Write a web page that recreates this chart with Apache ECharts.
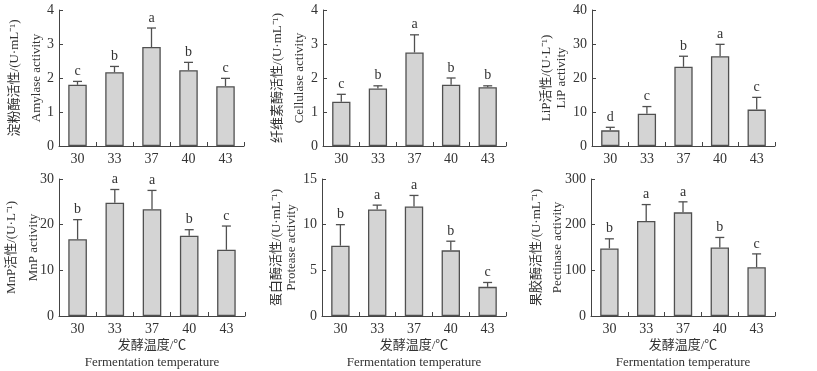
<!DOCTYPE html>
<html>
<head>
<meta charset="utf-8">
<script src="https://cdn.jsdelivr.net/npm/echarts@6/dist/echarts.min.js"></script>
<style>
  html, body { margin: 0; padding: 0; background: #fff; }
  #main { width: 817px; height: 371px; }
</style>
</head>
<body>
<div id="main"></div>
<script>
// fermentation temperatures (x categories)
const temps = ['30', '33', '37', '40', '43'];

// means, upper error (sd) and significance letters
const amylase = [1.80, 2.17, 2.91, 2.23, 1.76];
const amylaseErr = [0.10, 0.17, 0.56, 0.23, 0.23];
const amylaseSig = ['c', 'b', 'a', 'b', 'c'];

const cellulase = [1.30, 1.69, 2.75, 1.80, 1.73];
const cellulaseErr = [0.22, 0.08, 0.52, 0.20, 0.04];
const cellulaseSig = ['c', 'b', 'a', 'b', 'b'];

const lip = [4.6, 9.5, 23.3, 26.4, 10.7];
const lipErr = [0.9, 2.1, 3.1, 3.5, 3.6];
const lipSig = ['d', 'c', 'b', 'a', 'c'];

const mnp = [16.8, 24.8, 23.4, 17.6, 14.5];
const mnpErr = [4.3, 2.9, 4.1, 1.3, 5.2];
const mnpSig = ['b', 'a', 'a', 'b', 'c'];

const protease = [7.7, 11.67, 12.0, 7.19, 3.19];
const proteaseErr = [2.3, 0.47, 1.2, 1.0, 0.48];
const proteaseSig = ['b', 'a', 'a', 'b', 'c'];

const pectinase = [148, 208, 227, 150, 107];
const pectinaseErr = [21, 36, 23, 22, 29];
const pectinaseSig = ['b', 'a', 'a', 'b', 'c'];

const FONT = "'Liberation Serif', 'Times New Roman', 'Noto Sans CJK SC', serif";
const TXT = '#333';
const AX = '#444';

// panel layout: data + axis setup per panel
const panels = [
  { vals: amylase, err: amylaseErr, sig: amylaseSig, max: 4, step: 1,
    name: '淀粉酶活性/(U·mL⁻¹)\nAmylase activity', gap: 11, lh: 22,
    left: 59, top: 10, width: 185, height: 136, xName: false },
  { vals: cellulase, err: cellulaseErr, sig: cellulaseSig, max: 4, step: 1,
    name: '纤维素酶活性/(U·mL⁻¹)\nCellulase activity', gap: 12, lh: 22,
    left: 323, top: 10, width: 183, height: 136, xName: false },
  { vals: lip, err: lipErr, sig: lipSig, max: 40, step: 10,
    name: 'LiP活性/(U·L⁻¹)\nLiP activity', gap: 23, lh: 15,
    left: 592, top: 10, width: 183, height: 136, xName: false },
  { vals: mnp, err: mnpErr, sig: mnpSig, max: 30, step: 10,
    name: 'MnP活性/(U·L⁻¹)\nMnP activity', gap: 14, lh: 22,
    left: 59, top: 179, width: 186, height: 137, xName: true },
  { vals: protease, err: proteaseErr, sig: proteaseSig, max: 15, step: 5,
    name: '蛋白酶活性/(U·mL⁻¹)\nProtease activity', gap: 23, lh: 15,
    left: 322, top: 179, width: 184, height: 137, xName: true },
  { vals: pectinase, err: pectinaseErr, sig: pectinaseSig, max: 300, step: 100,
    name: '果胶酶活性/(U·mL⁻¹)\nPectinase activity', gap: 23, lh: 21,
    left: 591, top: 179, width: 184, height: 137, xName: true }
];

const grid = [], xAxis = [], yAxis = [], series = [];

panels.forEach(function (p, i) {
  grid.push({ left: p.left, top: p.top, width: p.width, height: p.height,
    outerBoundsMode: 'none' });

  xAxis.push({
    type: 'category', gridIndex: i, data: temps, boundaryGap: true,
    name: p.xName ? '发酵温度/℃\nFermentation temperature' : '',
    nameLocation: 'middle', nameGap: 21, nameMoveOverlap: false,
    nameTextStyle: { fontFamily: FONT, fontSize: 13, color: TXT, lineHeight: 17 },
    axisLine: { show: true, lineStyle: { color: AX, width: 1 } },
    axisTick: { show: true, inside: true, length: 4, lineStyle: { color: AX } },
    axisLabel: { fontFamily: FONT, fontSize: 14, color: TXT, margin: 6 }
  });

  yAxis.push({
    type: 'value', gridIndex: i, min: 0, max: p.max, interval: p.step,
    name: p.name, nameLocation: 'middle', nameRotate: 90, nameGap: p.gap,
    nameMoveOverlap: false,
    nameTextStyle: { fontFamily: FONT, fontSize: 13, color: TXT, lineHeight: p.lh },
    axisLine: { show: true, lineStyle: { color: AX, width: 1 } },
    axisTick: { show: true, inside: true, length: 4, lineStyle: { color: AX } },
    axisLabel: { fontFamily: FONT, fontSize: 14, color: TXT, margin: 5 },
    splitLine: { show: false }
  });

  series.push({
    type: 'bar', xAxisIndex: i, yAxisIndex: i, data: p.vals, barWidth: '50%',
    itemStyle: { color: '#d4d4d4', borderColor: '#505050', borderWidth: 1.3 },
    silent: true, animation: false
  });

  // upper error whisker + significance letter
  series.push({
    type: 'custom', xAxisIndex: i, yAxisIndex: i, z: 5, animation: false, silent: true,
    data: p.vals.map(function (v, k) { return [k, v, v + p.err[k]]; }),
    renderItem: function (params, api) {
      const base = api.coord([api.value(0), api.value(1)]);
      const top = api.coord([api.value(0), api.value(2)]);
      const letter = p.sig[params.dataIndex];
      const ls = { stroke: '#505050', lineWidth: 1.3 };
      return {
        type: 'group',
        children: [
          { type: 'line', shape: { x1: base[0], y1: base[1], x2: top[0], y2: top[1] }, style: ls },
          { type: 'line', shape: { x1: top[0] - 4.5, y1: top[1], x2: top[0] + 4.5, y2: top[1] }, style: ls },
          { type: 'text', style: { text: letter, x: top[0], y: top[1] - 3,
              align: 'center', verticalAlign: 'bottom',
              fontFamily: FONT, fontSize: 14, fill: TXT } }
        ]
      };
    }
  });
});

const chart = echarts.init(document.getElementById('main'), null, { renderer: 'canvas' });
chart.setOption({
  animation: false,
  backgroundColor: '#fff',
  grid: grid,
  xAxis: xAxis,
  yAxis: yAxis,
  series: series
});
</script>
</body>
</html>
